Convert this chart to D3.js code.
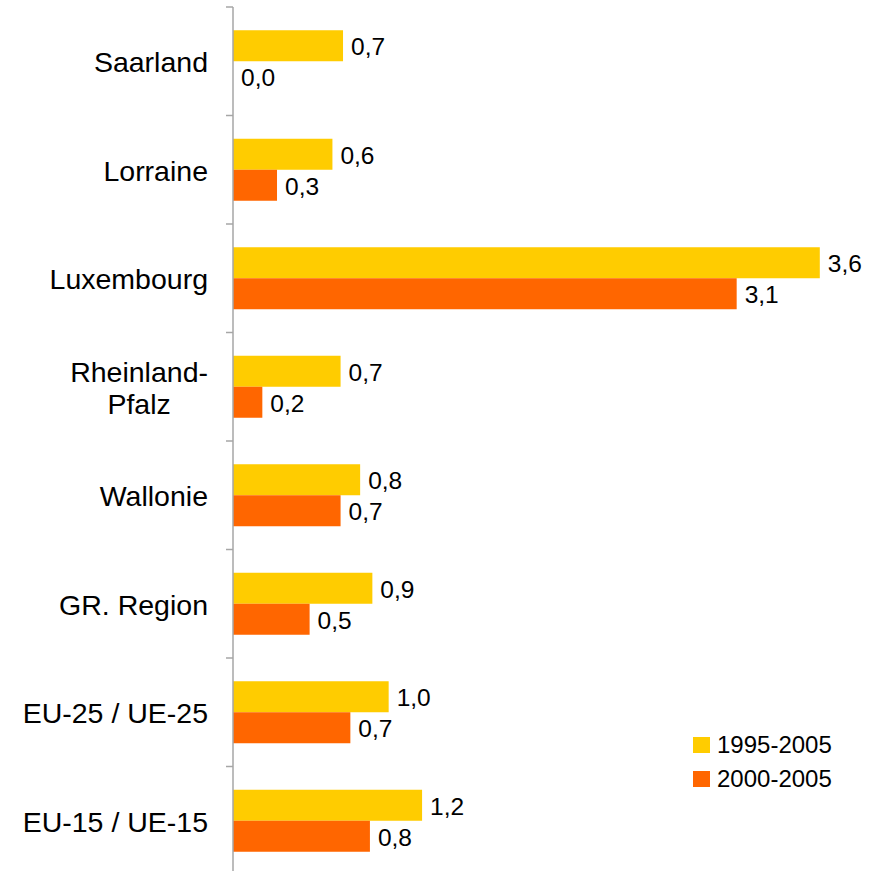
<!DOCTYPE html>
<html>
<head>
<meta charset="utf-8">
<script src="https://cdn.jsdelivr.net/npm/d3@7"></script>
<style>
  body { margin: 0; background: #fff; }
  text { font-family: "Liberation Sans", Arial, sans-serif; fill: #000; }
</style>
</head>
<body>
<div id="chart"></div>
<script>
const categories = ["Saarland", "Lorraine", "Luxembourg", "Rheinland-\nPfalz", "Wallonie", "GR. Region", "EU-25 / UE-25", "EU-15 / UE-15"];
const seriesNames = ["1995-2005", "2000-2005"];
const values1995 = [0.675, 0.61, 3.6, 0.66, 0.78, 0.855, 0.955, 1.16];
const values2000 = [0.0, 0.27, 3.09, 0.18, 0.66, 0.47, 0.72, 0.84];
const colors = ["#ffcc00", "#ff6600"];

const width = 878, height = 871;
const axis_x = 233;

let svg = d3.select("#chart")
            .append("svg")
            .attr("width", width)
            .attr("height", height);

let x = d3.scaleLinear().domain([0, 4]).range([axis_x, axis_x + 652]);
let y = d3.scaleBand().domain(categories).range([7, 7 + 8 * 108.5]);
let yInner = d3.scaleBand().domain(seriesNames).range([0, y.bandwidth()]).paddingOuter(0.75);
let color = d3.scaleOrdinal().domain(seriesNames).range(colors);
let fmt = v => d3.format(".1f")(v).replace(".", ",");

let rows = categories.map((c, i) => ({
  cat: c,
  vals: [{key: seriesNames[0], v: values1995[i]}, {key: seriesNames[1], v: values2000[i]}]
}));

let groups = svg.selectAll("g.cat")
  .data(rows)
  .enter()
  .append("g")
  .attr("class", "cat")
  .attr("transform", d => `translate(0,${y(d.cat)})`);

groups.selectAll("rect")
  .data(d => d.vals)
  .enter()
  .append("rect")
  .attr("x", x(0))
  .attr("y", d => yInner(d.key))
  .attr("width", d => x(d.v) - x(0))
  .attr("height", yInner.bandwidth())
  .attr("fill", d => color(d.key));

groups.selectAll("text.val")
  .data(d => d.vals)
  .enter()
  .append("text")
  .attr("class", "val")
  .attr("x", d => x(d.v) + 8)
  .attr("y", d => yInner(d.key) + yInner.bandwidth() / 2 + 1)
  .attr("dy", "0.35em")
  .style("font-size", "24.5px")
  .text(d => fmt(d.v));

// category labels, multi-line centred within a right-aligned block
groups.each(function(d) {
  let lines = d.cat.split("\n");
  let g = d3.select(this);
  let lh = 32;
  let t = g.append("text")
    .attr("y", y.bandwidth() / 2 + 1 - (lines.length - 1) * lh / 2)
    .style("font-size", "28.5px")
    .attr("text-anchor", "middle");
  lines.forEach((l, i) => {
    t.append("tspan").attr("x", 0).attr("dy", i === 0 ? "0.35em" : lh).text(l);
  });
  let w = t.node().getBBox().width;
  t.attr("transform", `translate(${208 - w / 2},0)`);
});

// axis line and ticks at band boundaries
svg.append("line")
  .attr("x1", axis_x).attr("x2", axis_x)
  .attr("y1", y.range()[0]).attr("y2", height)
  .attr("stroke", "#a6a6a6").attr("stroke-width", 1.5);

let tickPos = categories.map(c => y(c)).concat([y.range()[1]]);
svg.selectAll("line.tick")
  .data(tickPos)
  .enter()
  .append("line")
  .attr("class", "tick")
  .attr("x1", axis_x - 7).attr("x2", axis_x)
  .attr("y1", d => d).attr("y2", d => d)
  .attr("stroke", "#a6a6a6").attr("stroke-width", 1.5);

// legend
let legend = svg.selectAll("g.legend")
  .data(seriesNames)
  .enter()
  .append("g")
  .attr("class", "legend")
  .attr("transform", (d, i) => `translate(693,${745 + i * 34})`);

legend.append("rect")
  .attr("x", 0).attr("y", -8)
  .attr("width", 17).attr("height", 16)
  .attr("fill", d => color(d));

legend.append("text")
  .attr("x", 24)
  .attr("dy", "0.35em")
  .style("font-size", "24px")
  .text(d => d);
</script>
</body>
</html>
